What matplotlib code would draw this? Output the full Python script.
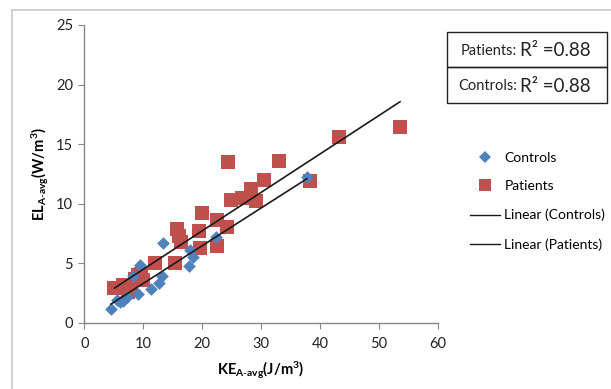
import numpy as np
import matplotlib
matplotlib.use('Agg')
import matplotlib.pyplot as plt
from matplotlib.lines import Line2D
from matplotlib.patches import Rectangle

plt.rcParams['font.family'] = ['Lato', 'DejaVu Sans']
plt.rcParams['mathtext.fontset'] = 'custom'
plt.rcParams['mathtext.rm'] = 'Lato'
plt.rcParams['mathtext.it'] = 'Lato:italic'
plt.rcParams['mathtext.bf'] = 'Lato:bold'

# KE vs EL measurements
controlsKE = [4.5, 5.5, 6.1, 6.6, 7.2, 8.3, 9.2, 9.5, 11.3, 12.7, 13.2, 13.4, 17.8, 17.9, 18.5, 22.4, 37.8]
controlsEL = [1.15, 1.9, 1.7, 1.8, 2.2, 3.9, 2.4, 4.85, 2.8, 3.3, 3.95, 6.7, 4.8, 6.1, 5.5, 7.2, 12.2]

patientsKE = [5.1, 6.6, 7.5, 8.0, 8.6, 9.2, 9.7, 10.0, 12.0, 15.4, 15.7, 16.0, 16.4, 19.4, 19.6,
              19.9, 22.5, 22.6, 24.3, 24.4, 24.9, 26.7, 28.3, 29.1, 30.5, 33.1, 38.3, 43.3, 53.6]
patientsEL = [2.9, 3.2, 2.6, 2.75, 3.7, 4.0, 4.1, 3.6, 5.0, 5.0, 7.9, 7.3, 6.8, 7.7, 6.3,
              9.2, 6.4, 8.6, 8.0, 13.5, 10.3, 10.5, 11.2, 10.2, 12.0, 13.6, 11.9, 15.6, 16.4]

r2Patients = 0.88
r2Controls = 0.88

blue = '#4F81BD'
red = '#C0504D'
gray = '#868686'

W, H = 611, 389
fig = plt.figure(figsize=(W / 100, H / 100), dpi=100)
ax = fig.add_axes([84.3 / W, 1 - 322.7 / H, (437.7 - 84.3) / W, (322.7 - 25) / H])

ax.scatter(controlsKE, controlsEL, marker='D', s=42, color=blue, linewidths=0, zorder=3)
ax.scatter(patientsKE, patientsEL, marker='s', s=100, color=red, linewidths=0, zorder=2)

# linear trend lines over each group's x range
for xs, ys in [(controlsKE, controlsEL), (patientsKE, patientsEL)]:
    xs = np.array(xs)
    slope, intercept = np.polyfit(xs, ys, 1)
    xx = np.array([xs.min(), xs.max()])
    ax.plot(xx, slope * xx + intercept, color='#1a1a1a', linewidth=1.2, zorder=4)

ax.set_xlim(0, 60)
ax.set_ylim(0, 25)
ax.set_xticks(np.arange(0, 61, 10))
ax.set_yticks(np.arange(0, 26, 5))
for side in ['top', 'right']:
    ax.spines[side].set_visible(False)
for side in ['left', 'bottom']:
    ax.spines[side].set_color(gray)
    ax.spines[side].set_linewidth(1.0)
ax.tick_params(direction='out', length=4, color=gray, labelsize=10.5, labelcolor='#222222', pad=4)
ax.tick_params(axis='x', pad=6)

ax.set_xlabel(r'KE$_{\mathbf{A\text{-}avg}}$(J/m$^{\mathbf{3}}$)', fontsize=10.5, fontweight='bold', labelpad=6)
ax.set_ylabel(r'EL$_{\mathbf{A\text{-}avg}}$(W/m$^{\mathbf{3}}$)', fontsize=10.5, fontweight='bold', labelpad=4)

handles = [
    Line2D([], [], marker='D', linestyle='none', color=blue, markersize=6.5, markeredgewidth=0),
    Line2D([], [], marker='s', linestyle='none', color=red, markersize=9, markeredgewidth=0),
    Line2D([], [], color='#1a1a1a', linewidth=1.0),
    Line2D([], [], color='#1a1a1a', linewidth=1.0),
]
labels = ['Controls', 'Patients', 'Linear (Controls)', 'Linear (Patients)']
fig.legend(handles, labels, loc='upper left', bbox_to_anchor=(464 / W, 1 - 146 / H),
           frameon=False, fontsize=10, labelspacing=1.2, handlelength=2.2,
           handletextpad=0.3, borderaxespad=0)

# R-squared boxes
boxLeft, boxRight = 446.7 / W, 606.7 / W
rows = [(32.3, 67.3, 'Patients:', r2Patients), (67.3, 103.3, 'Controls:', r2Controls)]
for top, bottom, name, r2 in rows:
    fig.patches.append(Rectangle((boxLeft, 1 - bottom / H), boxRight - boxLeft, (bottom - top) / H,
                                 transform=fig.transFigure, fill=False, edgecolor='#222222', linewidth=1.0))
    yc = 1 - ((top + bottom) / 2 + 1) / H
    fig.text(517 / W, yc, name, ha='right', va='center', fontsize=10.5, color='#222222')
    fig.text(519.5 / W, yc, 'R\u00b2 =%.2f' % r2, ha='left', va='center', fontsize=13.5, color='#222222')

# outer frame
fig.add_artist(Line2D([11.7 / W, 1], [1 - 10 / H, 1 - 10 / H], transform=fig.transFigure, color='#c8c8c8', linewidth=1.2))
fig.add_artist(Line2D([11.7 / W, 11.7 / W], [0, 1 - 10 / H], transform=fig.transFigure, color='#c8c8c8', linewidth=1.2))

fig.savefig('out.png', dpi=100)
